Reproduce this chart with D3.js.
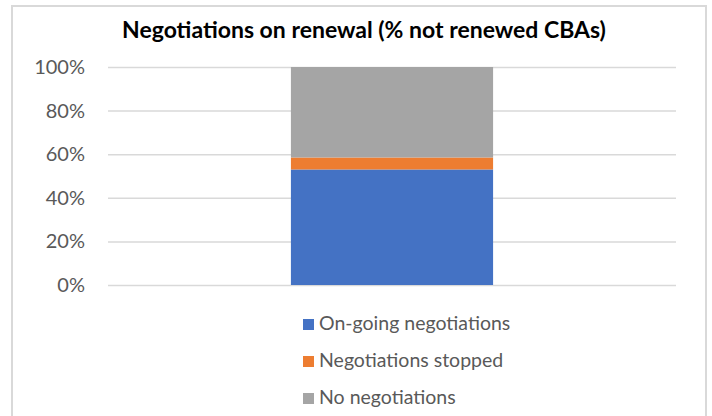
<!DOCTYPE html>
<html>
<head>
<meta charset="utf-8">
<script src="https://cdn.jsdelivr.net/npm/d3@7"></script>
<style>
  html, body { margin: 0; padding: 0; background: #fff; }
  svg { display: block; font-family: Lato, "Open Sans", sans-serif; }
</style>
</head>
<body>
<svg id="chart" width="712" height="416"></svg>
<script>
// Share of non-renewed CBAs by negotiation status (%)
const categories = ["Not renewed CBAs"];
const seriesNames = ["On-going negotiations", "Negotiations stopped", "No negotiations"];
const seriesValues = [[53], [5.5], [41.5]];
const seriesColors = ["#4472C4", "#ED7D31", "#A5A5A5"];
const tickValues = [0, 20, 40, 60, 80, 100];
const titleText = "Negotiations on renewal (% not renewed CBAs)";

const svg = d3.select("#chart");

// chart frame
svg.append("rect")
  .attr("x", 12).attr("y", 6).attr("width", 694).attr("height", 430)
  .attr("fill", "#fff").attr("stroke", "#D9D9D9").attr("stroke-width", 2);

const plot = { left: 108, right: 676, top: 67, bottom: 285 };

const x = d3.scaleBand().domain(categories)
  .range([plot.left, plot.right]).paddingInner(0.475).paddingOuter(0.475);
const y = d3.scaleLinear().domain([0, 100]).range([plot.bottom, plot.top]);

// gridlines + tick labels
const yAxis = d3.axisLeft(y).tickValues(tickValues)
  .tickFormat(d => d + "%")
  .tickSize(-(plot.right - plot.left)).tickPadding(23);
const gAxis = svg.append("g").attr("transform", `translate(${plot.left},0)`).call(yAxis);
gAxis.select(".domain").remove();
gAxis.selectAll(".tick line").attr("stroke", "#D9D9D9").attr("stroke-width", 1.5);
gAxis.selectAll(".tick text")
  .attr("fill", "#595959").attr("font-size", 20).attr("font-family", "Lato, sans-serif");

// stacked bar
const rows = categories.map((c, i) => {
  const r = { cat: c };
  seriesNames.forEach((s, j) => r[s] = seriesValues[j][i]);
  return r;
});
const stacked = d3.stack().keys(seriesNames)(rows);
svg.append("g").selectAll("g").data(stacked).join("g")
  .attr("fill", (d, i) => seriesColors[i])
  .selectAll("rect").data(d => d).join("rect")
  .attr("x", d => x(d.data.cat))
  .attr("width", x.bandwidth())
  .attr("y", d => y(d[1]))
  .attr("height", d => y(d[0]) - y(d[1]));

// title
svg.append("text")
  .attr("x", 364).attr("y", 38)
  .attr("text-anchor", "middle")
  .attr("font-size", 23).attr("font-weight", "bold").attr("fill", "#000")
  .text(titleText);

// legend
const legend = svg.append("g").selectAll("g").data(seriesNames).join("g")
  .attr("transform", (d, i) => `translate(303, ${319 + i * 37})`);
legend.append("rect").attr("width", 11).attr("height", 11)
  .attr("fill", (d, i) => seriesColors[i]);
legend.append("text").attr("x", 16).attr("y", 11)
  .attr("font-size", 19.5).attr("fill", "#595959").text(d => d);
</script>
</body>
</html>
